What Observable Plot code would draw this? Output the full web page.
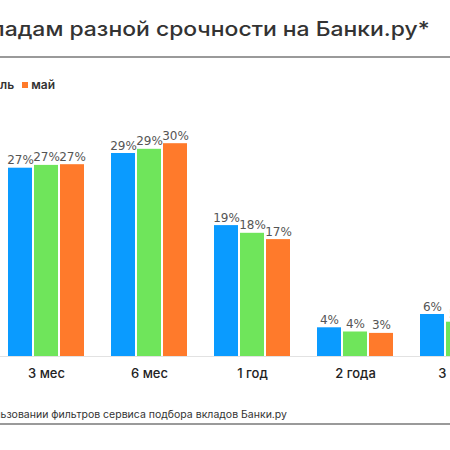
<!DOCTYPE html>
<html>
<head>
<meta charset="utf-8">
<script src="https://cdn.jsdelivr.net/npm/d3@7"></script>
<script src="https://cdn.jsdelivr.net/npm/@observablehq/plot@0.6"></script>
<style>
  html, body { margin: 0; padding: 0; background: #fff; }
  #wrap { position: relative; width: 450px; height: 450px; overflow: hidden; font-family: Inter, "Noto Sans", sans-serif; color: #333; }
  .title { position: absolute; right: 20px; top: 17px; white-space: nowrap; font-size: 20px; font-weight: 500; color: #333; transform-origin: right center; }
  .hr { position: absolute; left: 0; width: 450px; height: 1.5px; background: #9a9a9a; }
  .legend { position: absolute; right: 395px; top: 77px; white-space: nowrap; font-size: 12px; font-weight: 600; color: #333; }
  .legend span.sw { display: inline-block; width: 6px; height: 6px; margin: 0 3px 1px 8px; }
  .foot { position: absolute; right: 163px; top: 408px; white-space: nowrap; font-size: 10.5px; color: #333; }
  #chart { position: absolute; left: -15px; top: 100px; width: 535px; }
  .base { position: absolute; left: 0; width: 450px; top: 356px; height: 1px; background: #e2e2e2; }
</style>
</head>
<body>
<div id="wrap">
  <div class="title" id="title">Интерес к вкладам разной срочности на Банки.ру*</div>
  <div class="hr" style="top:56px"></div>
  <div class="legend" id="legend"></div>
  <div class="base"></div>
  <div id="chart"></div>
  <div class="foot">*При использовании фильтров сервиса подбора вкладов Банки.ру</div>
  <div class="hr" style="top:423px"></div>
</div>
<script>
const categories = ["3 мес", "6 мес", "1 год", "2 года", "3 года"];
const months = ["март", "апрель", "май"];
const colors = ["#0a9bff", "#6fe55b", "#ff7a2b"];
const marValues = [26.9, 29.0, 18.7, 4.1, 6.0];
const aprValues = [27.3, 29.6, 17.6, 3.5, 4.9];
const mayValues = [27.4, 30.4, 16.7, 3.3, 4.5];
const marLabels = [27, 29, 19, 4, 6];
const aprLabels = [27, 29, 18, 4, 5];
const mayLabels = [27, 30, 17, 3, 5];

const series = [[marValues, marLabels], [aprValues, aprLabels], [mayValues, mayLabels]];
const data = [];
categories.forEach((c, i) => {
  months.forEach((m, j) => {
    data.push({cat: c, month: m, value: series[j][0][i], label: series[j][1][i] + "%"});
  });
});

// stretch the title horizontally so its wide typeface is matched
(function () {
  const t = document.getElementById("title");
  const ctx = document.createElement("canvas").getContext("2d");
  ctx.font = "500 20px Inter";
  const w = ctx.measureText("адам разной срочности на Банки.ру*").width;
  t.style.transform = `scaleX(${425 / w})`;
})();

const legend = document.getElementById("legend");
legend.innerHTML = months.map((m, j) =>
  `<span class="sw" style="background:${colors[j]}"></span>${m}`).join("");

const chart = Plot.plot({
  width: 535,
  height: 296,
  marginLeft: 20,
  marginRight: 20,
  marginTop: 18,
  marginBottom: 40,
  style: {fontFamily: "Inter, 'Noto Sans', sans-serif", background: "transparent", maxWidth: "none"},
  fx: {domain: categories, paddingInner: 0.24, paddingOuter: 0, label: null},
  x: {domain: months, paddingInner: 0.074, paddingOuter: 0, axis: null},
  y: {domain: [0, 34], axis: null},
  color: {domain: months, range: colors},
  marks: [
    Plot.barY(data, {fx: "cat", x: "month", y: "value", fill: "month"}),
    Plot.text(data, {fx: "cat", x: "month", y: "value", text: "label", lineAnchor: "bottom", dy: -4, fontSize: 12, fontFamily: "DejaVu Sans", fill: "#555"}),
    Plot.axisFx({anchor: "bottom", tickSize: 0, tickPadding: 12, fontSize: 13, fontWeight: 500, fill: "#222", label: null})
  ]
});
document.getElementById("chart").appendChild(chart);
</script>
</body>
</html>
